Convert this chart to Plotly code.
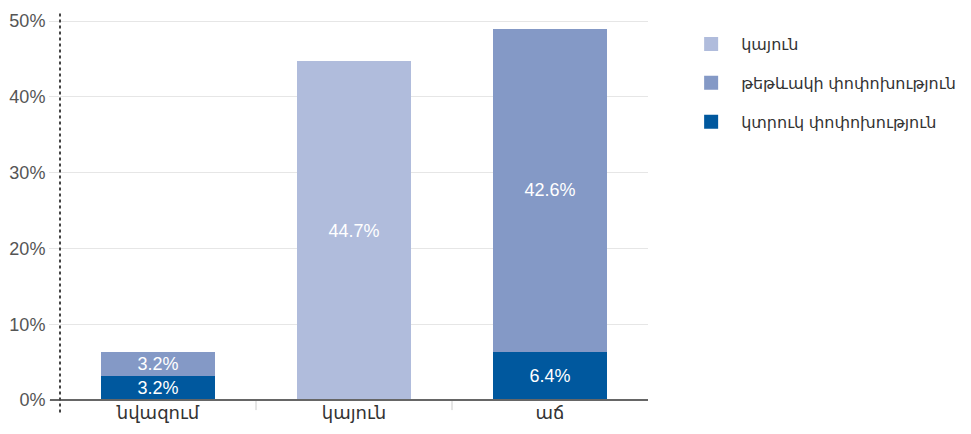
import plotly.graph_objects as go

categories = ["նվազում", "կայուն", "աճ"]
series_names = ["կտրուկ փոփոխություն", "թեթևակի փոփոխություն", "կայուն"]
sharp_change = [3.2, None, 6.4]
slight_change = [3.2, None, 42.6]
stable = [None, 44.7, None]
colors = ["#00589e", "#8499c6", "#b0bcdc"]
legend_ranks = [3, 2, 1]
y_ticks = [0, 10, 20, 30, 40, 50]
y_tick_labels = ["0%", "10%", "20%", "30%", "40%", "50%"]

FONT = "Liberation Sans, Arial, DejaVu Sans, sans-serif"

fig = go.Figure()
for name, vals, col in zip(series_names, [sharp_change, slight_change, stable], colors):
    fig.add_trace(go.Bar(
        x=categories, y=vals, name=name, showlegend=False,
        marker=dict(color=col, line=dict(width=0)),
        text=[None if v is None else f"{v:.1f}%" for v in vals],
        textposition="inside", insidetextanchor="middle",
        textfont=dict(color="white", size=18, family=FONT),
        constraintext="none",
    ))
# legend entries with larger square symbols
for name, col, rank in zip(series_names, colors, legend_ranks):
    fig.add_trace(go.Scatter(
        x=[None], y=[None], mode="markers", name=name, legendgroup=name,
        legendrank=rank,
        marker=dict(symbol="square", size=14, color=col),
    ))

fig.update_layout(
    barmode="stack", bargap=0.42,
    width=963, height=426,
    margin=dict(l=52, r=323, t=4, b=34),
    plot_bgcolor="white", paper_bgcolor="white",
    font=dict(family=FONT, color="#333"),
    showlegend=True,
    legend=dict(
        traceorder="grouped", xref="container", yref="container",
        x=0.699, y=0.955, xanchor="left", yanchor="top",
        font=dict(size=16, color="#333", family=FONT),
        itemwidth=50, tracegroupgap=15, bgcolor="rgba(0,0,0,0)",
    ),
    xaxis=dict(
        automargin=False,
        showgrid=False, showline=False, zeroline=False,
        ticks="", range=[-0.5, len(categories) - 0.5],
        tickfont=dict(size=18, color="#333", family=FONT),
    ),
    yaxis=dict(
        automargin=False,
        range=[0, 51.2], tickvals=y_ticks, ticktext=y_tick_labels,
        showgrid=True, gridcolor="#e6e6e6", gridwidth=1, zeroline=False,
        ticks="outside", ticklen=10, tickcolor="#e6e6e6",
        tickfont=dict(size=18, color="#555", family=FONT),
        showline=False,
    ),
)

# category boundary ticks (interior only)
for i in range(1, len(categories)):
    fig.add_shape(type="line", xref="x", yref="paper", x0=i - 0.5, x1=i - 0.5,
                  y0=0, y1=-0.026, line=dict(color="#ccc", width=1))
# baseline
fig.add_shape(type="line", xref="paper", yref="paper", x0=-0.017, x1=1.0, y0=0, y1=0,
              line=dict(color="#666", width=2), layer="above")
# dotted vertical axis line
fig.add_shape(type="line", xref="paper", yref="paper", x0=0, x1=0, y0=-0.032, y1=1.0,
              line=dict(color="#444", width=2, dash="dot"), layer="above")

fig.write_html("out.html")
